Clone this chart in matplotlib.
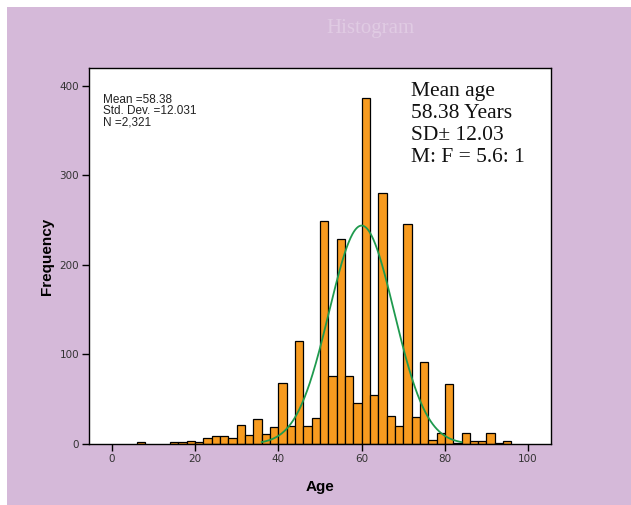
import numpy as np
import matplotlib
matplotlib.use('Agg')
import matplotlib.pyplot as plt
from matplotlib.patches import Rectangle

# histogram bins (left edge, width 2 years) and counts
bin_left = [6, 14, 16, 18, 20, 22, 24, 26, 28, 30, 32, 34, 36, 38,
            40, 42, 44, 46, 48, 50, 52, 54, 56, 58, 60, 62, 64, 66, 68,
            70, 72, 74, 76, 78, 80, 82, 84, 86, 88, 90, 92, 94]
counts = [2, 2, 2, 3, 2, 7, 9, 9, 7, 21, 10, 28, 11, 19,
          68, 20, 115, 20, 29, 249, 76, 229, 76, 46, 387, 55, 280, 31, 20,
          246, 30, 92, 5, 12, 67, 1, 12, 3, 3, 12, 1, 3]
bin_width = 2

# fitted curve as drawn
curve_mu = 60.0
curve_sd = 7.8
curve_peak = 244

x_ticks = [0, 20, 40, 60, 80, 100]
y_ticks = [0, 100, 200, 300, 400]

fig = plt.figure(figsize=(6.31, 5.05), dpi=100, facecolor='white')
bg = Rectangle((7 / 631, 0), 1, (505 - 7) / 505, transform=fig.transFigure,
               facecolor='#d5b9d9', edgecolor='none', zorder=-10)
fig.add_artist(bg)

ax = fig.add_axes([89 / 631, (505 - 444) / 505, 462 / 631, 376 / 505])
ax.set_zorder(1)
ax.set_facecolor('white')

ax.bar(bin_left, counts, width=bin_width, align='edge', color='#f79b1f',
       edgecolor='black', linewidth=0.9, zorder=2)

xs = np.linspace(36, 84, 300)
ys = curve_peak * np.exp(-(xs - curve_mu) ** 2 / (2 * curve_sd ** 2))
ax.plot(xs, ys, color='#1f9a4e', linewidth=1.3, zorder=3)

ax.set_xlim(-5.5, 105.5)
ax.set_ylim(0, 420)
ax.set_xticks(x_ticks)
ax.set_yticks(y_ticks)
ax.tick_params(axis='both', direction='out', length=5, width=1,
               labelsize=7.5, labelcolor='#333333', pad=2)
for s in ax.spines.values():
    s.set_linewidth(1)

ax.set_xlabel('Age', fontsize=11, fontweight='bold', family='Liberation Sans',
              labelpad=12)
ax.set_ylabel('Frequency', fontsize=11, fontweight='bold',
              family='Liberation Sans', labelpad=4)

ax.text(0.03, 0.932, 'Mean =58.38\nStd. Dev. =12.031\nN =2,321',
        transform=ax.transAxes, fontsize=8.5, family='Liberation Sans',
        va='top', ha='left', linespacing=0.95, color='#222222')

ax.text(0.697, 0.962, 'Mean age\n58.38 Years\nSD\u00b1 12.03\nM: F = 5.6: 1',
        transform=ax.transAxes, fontsize=15.5, family='Liberation Serif',
        va='top', ha='left', linespacing=1.2, color='#111111')

fig.text(370 / 631, 1 - 29 / 505, 'Histogram', fontsize=15,
         family='Liberation Serif', color='#e0cbe3', ha='center', va='center')

fig.savefig('out.png', dpi=100, facecolor=fig.get_facecolor())
